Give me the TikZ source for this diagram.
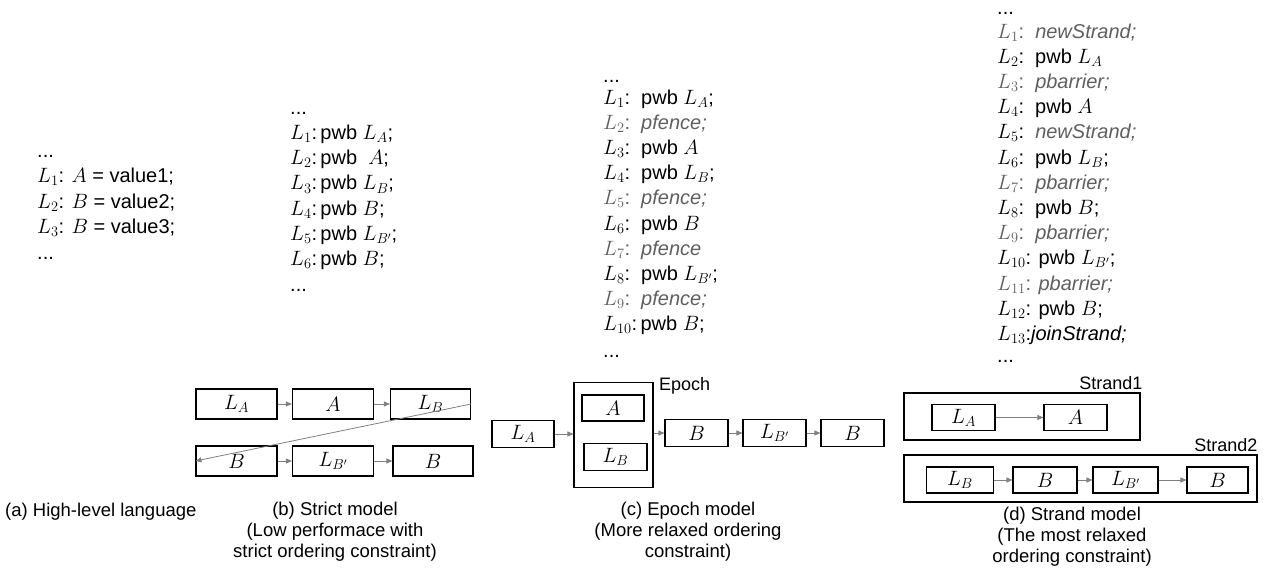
\documentclass[tikz,border=0pt]{standalone}
\usepackage{fontspec}
\setmainfont{Liberation Sans}
\usetikzlibrary{arrows.meta}
\definecolor{fade}{RGB}{95,95,95}
\definecolor{arrgray}{RGB}{128,128,128}
\newcommand{\gr}{\color{fade}}
\newcommand{\tdots}{.{}.{}.}
\begin{document}
\begin{tikzpicture}[x=1pt,y=-1pt,
  codeline/.style={anchor=base west, inner sep=0pt, font=\fontsize{20}{24}\selectfont},
  captext/.style={align=center, inner sep=0pt, font=\fontsize{18.5}{21}\selectfont},
  blk/.style={draw, line width=1.1pt, minimum height=27pt, inner sep=0pt, font=\fontsize{20}{24}\selectfont},
  grp/.style={draw, line width=1.1pt, inner sep=0pt},
  lbl/.style={inner sep=0pt, font=\fontsize{18}{21}\selectfont},
  arr/.style={draw=arrgray, line width=0.8pt, -{Triangle[length=6pt,width=5pt]}}]
\useasboundingbox (0,0) rectangle (1265,571);

% (a) code
\foreach \t [count=\i] in {{\tdots},{$L_1$: $A$ = value1;},{$L_2$: $B$ = value2;},{$L_3$: $B$ = value3;},{\tdots}}
  \node[codeline] (a\i) at (37,{157+25.5*(\i-1)}) {\t};

% (b) code
\foreach \t [count=\i] in {{\tdots},{$L_1$:\,pwb $L_A$;},{$L_2$:\,pwb\ \ $A$;},{$L_3$:\,pwb $L_B$;},{$L_4$:\,pwb $B$;},{$L_5$:\,pwb $L_{B'}$;},{$L_6$:\,pwb $B$;},{\tdots}}
  \node[codeline] (b\i) at (290,{114+25.3*(\i-1)}) {\t};

% (c) code
\node[codeline] (c0) at (603,82) {\tdots};
\foreach \t [count=\i] in {{$L_1$:\ \ pwb $L_A$;},{\gr $L_2$:\ \ \textit{pfence;}},{$L_3$:\ \ pwb $A$},{$L_4$:\ \ pwb $L_B$;},{\gr $L_5$:\ \ \textit{pfence;}},{$L_6$:\ \ pwb $B$},{\gr $L_7$:\ \ \textit{pfence}},{$L_8$:\ \ pwb $L_{B'}$;},{\gr $L_9$:\ \ \textit{pfence;}},{$L_{10}$:\,pwb $B$;}}
  \node[codeline] (c\i) at (603,{104+25.2*(\i-1)}) {\t};
\node[codeline] (c11) at (603,357) {\tdots};

% (d) code
\node[codeline] (d0) at (997,14) {\tdots};
\foreach \t [count=\i] in {{\gr $L_1$:\ \ \textit{newStrand;}},{$L_2$:\ \ pwb $L_A$},{\gr $L_3$:\ \ \textit{pbarrier;}},{$L_4$:\ \ pwb $A$},{$L_5$:\ \ {\gr\textit{newStrand;}}},{$L_6$:\ \ pwb $L_B$;},{\gr $L_7$:\ \ \textit{pbarrier;}},{$L_8$:\ \ pwb $B$;},{\gr $L_9$:\ \ \textit{pbarrier;}},{$L_{10}$: pwb $L_{B'}$;},{\gr $L_{11}$: \textit{pbarrier;}},{$L_{12}$: pwb $B$;},{$L_{13}$:\textit{joinStrand;}}}
  \node[codeline] (d\i) at (997,{38+25.2*(\i-1)}) {\t};
\node[codeline] (d14) at (997,362) {\tdots};

% (b) boxes
\node[blk, minimum width=81pt, minimum height=30pt] (bLA) at (236.5,404) {$L_A$};
\node[blk, minimum width=81pt, minimum height=30pt] (bA)  at (333,404) {$A$};
\node[blk, minimum width=80pt, minimum height=30pt] (bLB) at (430.5,404) {$L_B$};
\node[blk, minimum width=81pt, minimum height=30pt] (bB)  at (236.5,461) {$B$};
\node[blk, minimum width=81pt, minimum height=30pt] (bLB2) at (333,461) {$L_{B'}$};
\node[blk, minimum width=80pt, minimum height=30pt] (bB2) at (433,461) {$B$};
\draw[arr] (bLA) -- (bA);
\draw[arr] (bA) -- (bLB);
\draw[arr] (bB) -- (bLB2);
\draw[arr] (bLB2) -- (bB2);
\draw[arr] (bLB.east) -- (bB.west);

% (c) boxes
\node[blk, minimum width=62pt] (cLA) at (523,434) {$L_A$};
\node[grp, minimum width=79pt, minimum height=105pt] (ep) at (613.5,435) {};
\node[lbl, anchor=west] (eplbl) at (659,386) {Epoch};
\node[blk, minimum width=62pt, minimum height=26pt] (cA) at (613,408) {$A$};
\node[blk, minimum width=63pt] (cLB) at (615.5,457) {$L_B$};
\node[blk, minimum width=63pt] (cB) at (696.5,433) {$B$};
\node[blk, minimum width=63pt] (cLB2) at (774.5,433) {$L_{B'}$};
\node[blk, minimum width=63pt] (cB2) at (852.5,433) {$B$};
\draw[arr] (cLA) -- (ep.west |- cLA);
\draw[arr] (ep.east |- cB) -- (cB);
\draw[arr] (cB) -- (cLB2);
\draw[arr] (cLB2) -- (cB2);

% (d) boxes
\node[grp, minimum width=236pt, minimum height=47pt] (s1) at (1022,416.5) {};
\node[lbl, anchor=south east] (s1lbl) at ([xshift=2pt,yshift=3pt]s1.north east) {Strand1};
\node[blk, minimum width=63pt, minimum height=26pt] (dLA) at (963.5,417.5) {$L_A$};
\node[blk, minimum width=63pt, minimum height=26pt] (dA) at (1075.5,417.5) {$A$};
\draw[arr] (dLA) -- (dA);
\node[grp, minimum width=353pt, minimum height=47pt] (s2) at (1080.5,478.5) {};
\node[lbl, anchor=south east] (s2lbl) at ([yshift=3pt]s2.north east) {Strand2};
\node[blk, minimum width=67pt, minimum height=26pt] (dLB) at (960,480) {$L_B$};
\node[blk, minimum width=64pt, minimum height=26pt] (dB) at (1045,480) {$B$};
\node[blk, minimum width=65pt, minimum height=26pt] (dLB2) at (1125.5,480) {$L_{B'}$};
\node[blk, minimum width=61pt, minimum height=26pt] (dB2) at (1217.5,480) {$B$};
\draw[arr] (dLB) -- (dB);
\draw[arr] (dB) -- (dLB2);
\draw[arr] (dLB2) -- (dB2);

% captions
\node[captext, anchor=west] (capa) at (5,512) {(a) High-level language};
\node[captext, anchor=north] (capb) at (335,502) {(b) Strict model\\(Low performace with\\strict ordering constraint)};
\node[captext, anchor=north] (capc) at (688,502) {(c) Epoch model\\(More relaxed ordering\\constraint)};
\node[captext, anchor=north] (capd) at (1072,507) {(d) Strand model\\(The most relaxed\\ordering constraint)};
\end{tikzpicture}
\end{document}
